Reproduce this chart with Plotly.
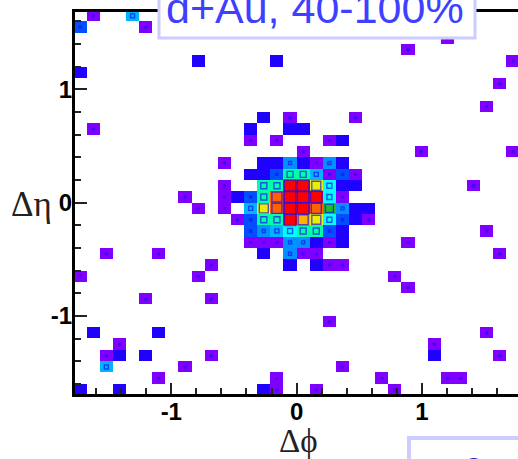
import math
import plotly.graph_objects as go

# Occupied cells: phi bin, eta row (0 = top), level
phi_bin = [-16,-13, -17,-12, 11, 8, -8,-2,16, -17, 15, 14, -3,-1,4,
           -16,-4,-1,0, -4,-2,2,3, 0,9,16,
           -6,-3,-2,-1,0,1,2,3,
           -4,-3,-2,-1,0,1,2,3,4,
           -6,-3,-2,-1,0,1,2,3,4,13,
           -9,-6,-5,-4,-3,-2,-1,0,1,2,3,
           -8,-6,-4,-3,-2,-1,0,1,2,3,4,5,
           -5,-4,-3,-2,-1,0,1,2,3,4,5,
           -4,-3,-2,-1,0,1,2,3,14,
           -4,-3,-2,-1,0,1,2,3,8,
           -15,-11,-3,-1,0,1,15,
           -7,-1,1,2,3,
           -17,-8,7, 8, -12,-7, 2,
           -16,-11,14, -14,10,
           -15,-14,-12,-7,10,15,
           -15,-9,3,
           -11,-2,6,11,12,
           -17,-14,-3,-2,1,7]
eta_row = [0]*2 + [1]*2 + [2] + [3] + [4]*3 + [5] + [6] + [8] + [9]*3 \
    + [10]*4 + [11]*4 + [12]*3 \
    + [13]*8 + [14]*9 + [15]*10 + [16]*11 + [17]*12 + [18]*11 \
    + [19]*9 + [20]*9 + [21]*7 + [22]*5 + [23]*3 + [24] + [25]*2 + [27] \
    + [28]*3 + [29]*2 + [30]*6 + [31]*3 + [32]*5 + [33]*6
level = [1,5, 3,1, 1, 1, 2,2,1, 2, 1, 1, 2,1,1,
         1,2,2,2, 1,1,1,2, 1,1,1,
         1,2,2,4,2,1,4,2,
         2,2,3,7,7,5,1,3,1,
         1,7,7,13,13,10,6,2,2,1,
         1,1,2,3,7,12,13,13,13,6,1,
         1,1,5,10,12,13,13,12,9,4,2,2,
         1,3,7,7,13,11,10,6,3,2,1,
         3,4,5,6,7,7,3,2,1,
         1,1,1,4,4,2,1,2,1,
         1,1,2,4,1,1,1,
         1,2,2,1,1,
         1,1,1, 1, 1,1, 1,
         2,2,1, 1,1,
         1,2,2,1,2,1,
         5,1,1,
         1,1,1,1,1,
         2,2,2,1,1,1]

level_colors = ["#7f00ff", "#2000ff", "#0050ff", "#0090ff", "#00b4ff", "#00ffff",
                "#00ffa8", "#00e870", "#20c020", "#e8f000", "#ffb000", "#ff6000", "#ff0000"]
box_sizes = [1.5, 1.5, 2, 3, 4, 5, 6, 7, 8, 9, 10, 10, 11.5]

x_ticks = [-1, 0, 1]
y_ticks = [-1, 0, 1]
title_text = "d+Au, 40-100%"
second_text = "0"

PHI_W = math.pi / 30
ETA_H = 0.1
W, H = 521, 459          # 3 px wider than the window: Plotly keeps 3 px back at the right
ML, MT, MB = 75, 12, 65
PW, PH = 443, H - MT - MB
px = lambda v: (v - ML) / PW
py = lambda v: 1 - (v - MT) / PH

phi_c = [(i + 0.5) * PHI_W for i in range(-17, 17)]
eta_c = [(16.5 - r) * ETA_H for r in range(34)]
z = [[None] * 34 for _ in range(34)]
for i, r, v in zip(phi_bin, eta_row, level):
    z[r][i + 17] = v

n = len(level_colors)
scale = []
for k, c in enumerate(level_colors):
    scale += [[k / n, c], [(k + 1) / n, c]]

fig = go.Figure()
fig.add_trace(go.Heatmap(x=phi_c, y=eta_c, z=z, zmin=0.5, zmax=n + 0.5,
                         colorscale=scale, showscale=False, hoverongaps=False))
fig.add_trace(go.Scatter(
    x=[(i + 0.5) * PHI_W for i in phi_bin],
    y=[(16.5 - r) * ETA_H for r in eta_row],
    mode="markers",
    marker=dict(symbol="square-open", size=[box_sizes[v - 1] for v in level],
                color="#1a10f0", line=dict(width=1.4, color="#1a10f0")),
    showlegend=False, hoverinfo="skip"))

axis = dict(showgrid=False, zeroline=False, showline=True, linecolor="black", linewidth=3,
            ticks="inside", tickwidth=1.5, tickcolor="#222222",
            tickfont=dict(family="Liberation Sans", size=24, color="black", weight="bold"),
            minor=dict(ticks="inside", ticklen=6, tickwidth=1.5, tickcolor="#222222", dtick=0.2))

fig.update_layout(
    width=W, height=H, autosize=False,
    margin=dict(l=ML, r=0, t=MT, b=MB, pad=0),
    paper_bgcolor="white", plot_bgcolor="white", showlegend=False,
    xaxis=dict(axis, range=[(ML - 296.6) / 125.3, (ML + PW - 296.6) / 125.3], ticklen=11, ticklabelstandoff=-6,
               tickmode="array", tickvals=x_ticks, ticktext=[str(t) for t in x_ticks],
               mirror=True),
    yaxis=dict(axis, range=[-1.688, 1.683], ticklen=12, ticklabelstandoff=-5, tickmode="array", tickvals=y_ticks,
               ticktext=[str(t) for t in y_ticks], mirror=True),
    shapes=[
        dict(type="rect", xref="paper", yref="paper", x0=px(159), x1=px(475), y0=py(38), y1=py(-20),
             fillcolor="white", line=dict(color="#ccccff", width=3), layer="above"),
        dict(type="rect", xref="paper", yref="paper", x0=px(409), x1=px(560), y0=py(500), y1=py(438),
             fillcolor="white", line=dict(color="#ccccff", width=4), layer="above"),
    ],
    annotations=[
        dict(text=title_text, xref="paper", yref="paper", x=px(315), y=py(8), showarrow=False,
             xanchor="center", yanchor="middle", font=dict(family="Liberation Sans", size=43, color="#3f3fff")),
        dict(text=second_text, xref="paper", yref="paper", x=px(473), y=py(472), showarrow=False,
             xanchor="center", yanchor="middle", font=dict(family="Liberation Sans", size=42, color="#3030c0")),
        dict(text="Δϕ", xref="paper", yref="paper", x=px(298), y=py(441), showarrow=False,
             xanchor="center", yanchor="middle", font=dict(family="Liberation Serif", size=33, color="#222222")),
        dict(text="Δη", xref="paper", yref="paper", x=px(31.5), y=py(205), showarrow=False,
             xanchor="center", yanchor="middle", font=dict(family="Liberation Serif", size=35, color="#222222")),
    ],
)
fig.write_html("out.html", config={"displayModeBar": False},
               post_script="document.body.style.margin='0';document.body.style.overflow='hidden';")
